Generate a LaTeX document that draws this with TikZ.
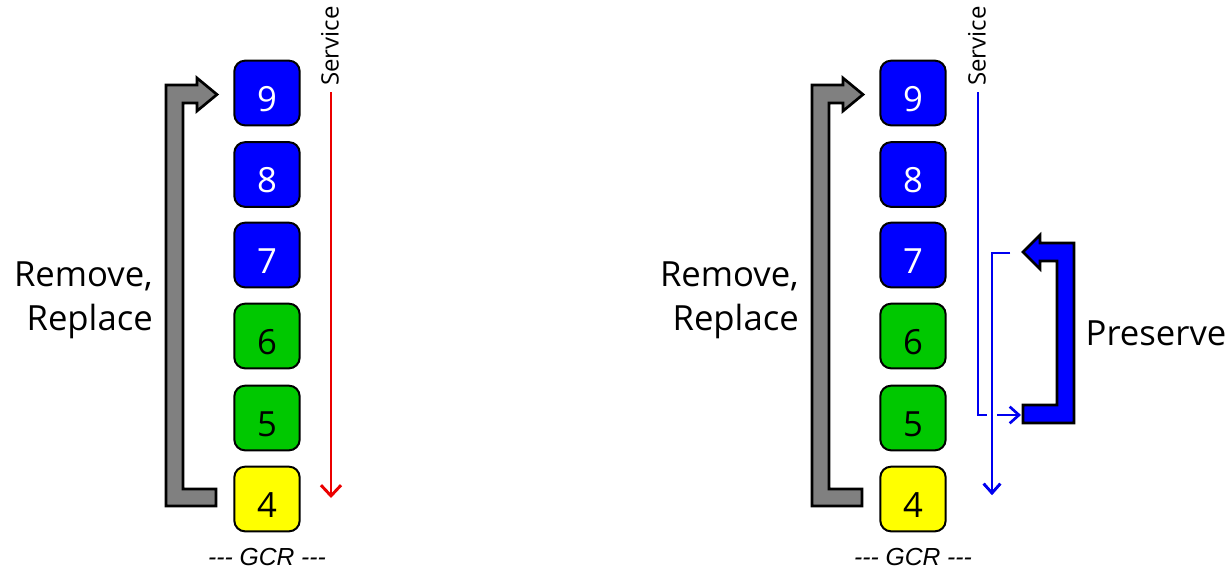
\documentclass[tikz,border=0pt]{standalone}
\usepackage{fontspec}
\setmainfont{Open Sans}
\newfontfamily\gcrfont{Liberation Sans}
\usetikzlibrary{arrows.meta}
\definecolor{boxblue}{RGB}{0,0,255}
\definecolor{boxgreen}{RGB}{0,200,0}
\definecolor{boxyellow}{RGB}{255,255,0}
\definecolor{arrgray}{RGB}{128,128,128}
\definecolor{svcred}{RGB}{235,0,0}
\definecolor{svcblue}{RGB}{0,0,240}
\begin{document}
\begin{tikzpicture}[x=0.75pt,y=-0.75pt,
  numbox/.style={draw=black,line width=1.5pt,rounded corners=8pt,
    minimum width=49pt,minimum height=48.5pt,inner sep=0pt,
    font=\fontsize{26}{30}\selectfont,text height=27.5pt,text depth=0pt},
  bluebox/.style={numbox,fill=boxblue,text=white},
  greenbox/.style={numbox,fill=boxgreen,text=black},
  yellowbox/.style={numbox,fill=boxyellow,text=black},
  bigarrow/.style={draw=black,line width=2pt,line join=miter},
  svcline/.style={line width=2.2pt,-{Straight Barb[length=8pt,width=15pt,line width=2.2pt]}},
  smallline/.style={line width=2pt,-{Straight Barb[length=7pt,width=12.5pt,line width=2pt]}},
  biglabel/.style={font=\fontsize{26}{33}\selectfont,inner sep=0pt},
  svclabel/.style={font=\fontsize{18}{21}\selectfont,inner sep=0pt,rotate=90,anchor=west},
  gcrlabel/.style={font=\gcrfont\fontsize{18.5}{22}\selectfont\itshape,inner sep=0pt}
]
\useasboundingbox (0,0) rectangle (1232,575);

% ---------- left panel ----------
\node[bluebox]   (l9) at (267,93)    {9};
\node[bluebox]   (l8) at (267,174.5) {8};
\node[bluebox]   (l7) at (267,255)   {7};
\node[greenbox]  (l6) at (267,336)   {6};
\node[greenbox]  (l5) at (267,418)   {5};
\node[yellowbox] (l4) at (267,499)   {4};

\fill[arrgray] (166,85) -- (197,85) -- (197,78) -- (217,94.5) -- (197,111) -- (197,103)
  -- (183,103) -- (183,489) -- (216,489) -- (216,506) -- (166,506) -- cycle;
\draw[bigarrow] (166,85) -- (197,85) -- (197,78) -- (217,94.5) -- (197,111) -- (197,103)
  -- (183,103) -- (183,489) -- (216,489) -- (216,506) -- (166,506) -- cycle;

\node[biglabel,align=right,anchor=east] (rrl) at (153,300) {Remove,\\Replace};

\node[svclabel] (svcl) at (330,86) {Service};
\coordinate (rs) at (331,92);
\coordinate (re) at (331,498);
\draw[svcline,svcred] (rs) -- (re);

\node[gcrlabel] (gcrl) at (267,557) {-{}-{}- GCR -{}-{}-};

% ---------- right panel ----------
\node[bluebox]   (r9) at (913,93)    {9};
\node[bluebox]   (r8) at (913,174.5) {8};
\node[bluebox]   (r7) at (913,255)   {7};
\node[greenbox]  (r6) at (913,336)   {6};
\node[greenbox]  (r5) at (913,418)   {5};
\node[yellowbox] (r4) at (913,499)   {4};

\begin{scope}[xshift=484.5pt]
\fill[arrgray] (166,85) -- (197,85) -- (197,78) -- (217,94.5) -- (197,111) -- (197,103)
  -- (183,103) -- (183,489) -- (216,489) -- (216,506) -- (166,506) -- cycle;
\draw[bigarrow] (166,85) -- (197,85) -- (197,78) -- (217,94.5) -- (197,111) -- (197,103)
  -- (183,103) -- (183,489) -- (216,489) -- (216,506) -- (166,506) -- cycle;
\end{scope}

\node[biglabel,align=right,anchor=east] (rrr) at (799,300) {Remove,\\Replace};

\node[svclabel] (svcr) at (977,86) {Service};
\coordinate (bs) at (978,92);
\coordinate (be) at (1021,415);
\draw[smallline,svcblue] (bs) |- (be);

\coordinate (ps) at (1010,253);
\coordinate (pe) at (992,495);
\draw[smallline,svcblue,preaction={draw=white,line width=7.5pt,-}] (ps) -| (pe);
\draw[smallline,svcblue] (ps) -| (pe);

\fill[boxblue] (1074,243) -- (1040,243) -- (1040,235) -- (1023,252) -- (1040,269) -- (1040,261)
  -- (1057,261) -- (1057,405) -- (1023,405) -- (1023,423) -- (1074,423) -- cycle;
\draw[bigarrow] (1074,243) -- (1040,243) -- (1040,235) -- (1023,252) -- (1040,269) -- (1040,261)
  -- (1057,261) -- (1057,405) -- (1023,405) -- (1023,423) -- (1074,423) -- cycle;

\node[biglabel] (pres) at (1156,333) {Preserve};

\node[gcrlabel] (gcrr) at (913,557) {-{}-{}- GCR -{}-{}-};
\end{tikzpicture}
\end{document}
